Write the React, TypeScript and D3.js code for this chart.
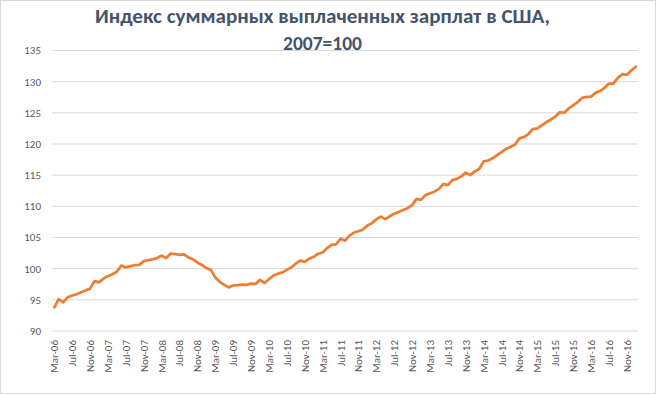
import React from "react";
import * as d3 from "d3";

const titleLines = ["Индекс суммарных выплаченных зарплат в США,", "2007=100"];

// Monthly index values, Mar-2006 .. Jan-2017
const values: number[] = [
  93.8, 95.1, 94.6, 95.4, 95.7, 95.9, 96.2, 96.5, 96.8, 98.0,
  97.8, 98.4, 98.8, 99.1, 99.5, 100.5, 100.2, 100.4, 100.55, 100.6,
  101.2, 101.35, 101.5, 101.7, 102.1, 101.7, 102.4, 102.35, 102.2, 102.3,
  101.8, 101.5, 101.0, 100.6, 100.1, 99.8, 98.6, 97.9, 97.4, 97.0,
  97.3, 97.35, 97.45, 97.4, 97.6, 97.55, 98.2, 97.7, 98.3, 98.9,
  99.2, 99.4, 99.8, 100.2, 100.8, 101.3, 101.1, 101.6, 101.9, 102.4,
  102.6, 103.3, 103.8, 103.9, 104.8, 104.5, 105.3, 105.8, 106.0, 106.3,
  106.9, 107.3, 107.9, 108.35, 107.95, 108.4, 108.8, 109.1, 109.4, 109.7,
  110.2, 111.2, 111.05, 111.8, 112.1, 112.35, 112.8, 113.6, 113.4, 114.2,
  114.4, 114.8, 115.4, 115.0, 115.6, 116.0, 117.2, 117.35, 117.7, 118.2,
  118.7, 119.2, 119.55, 119.9, 120.9, 121.1, 121.6, 122.4, 122.5, 123.0,
  123.5, 123.9, 124.4, 125.1, 125.0, 125.7, 126.2, 126.7, 127.4, 127.55,
  127.6, 128.2, 128.5, 129.0, 129.7, 129.7, 130.6, 131.2, 131.1, 131.8,
  132.4,
];

const monthNames = ["Jan", "Feb", "Mar", "Apr", "May", "Jun", "Jul", "Aug", "Sep", "Oct", "Nov", "Dec"];
const startYear = 2006;
const startMonth = 2; // March (0-based)

const categories: string[] = values.map((_, i) => {
  const m = startMonth + i;
  const y = startYear + Math.floor(m / 12);
  return `${monthNames[m % 12]}-${String(y % 100).padStart(2, "0")}`;
});

const tickLabels: string[] = [
  "Mar-06", "Jul-06", "Nov-06", "Mar-07", "Jul-07", "Nov-07", "Mar-08", "Jul-08", "Nov-08",
  "Mar-09", "Jul-09", "Nov-09", "Mar-10", "Jul-10", "Nov-10", "Mar-11", "Jul-11", "Nov-11",
  "Mar-12", "Jul-12", "Nov-12", "Mar-13", "Jul-13", "Nov-13", "Mar-14", "Jul-14", "Nov-14",
  "Mar-15", "Jul-15", "Nov-15", "Mar-16", "Jul-16", "Nov-16",
];

const yTicks: number[] = [90, 95, 100, 105, 110, 115, 120, 125, 130, 135];

export default function App() {
  const W = 659;
  const H = 396;
  const left = 52;
  const right = 638;
  const top = 50.5;
  const bottom = 331;

  const x = d3.scalePoint<string>().domain(categories).range([left, right]).padding(0.5);
  const y = d3.scaleLinear().domain([90, 135]).range([bottom, top]);

  const line = d3
    .line<number>()
    .x((_, i) => x(categories[i]) as number)
    .y((d) => y(d))
    .curve(d3.curveLinear);

  const font = "Calibri, Carlito, 'Liberation Sans', Arial, sans-serif";

  return (
    <svg
      width={W}
      height={H}
      style={{ position: "absolute", left: 0, top: 0, background: "#fff" }}
      fontFamily={font}
    >
      <rect x={0.5} y={0.5} width={655} height={393} fill="#fff" stroke="#D9D9D9" />
      <text
        x={322.5}
        y={23}
        textAnchor="middle"
        fontSize={19.5}
        fontWeight="bold"
        fill="#44546A"
        textLength={455}
        lengthAdjust="spacingAndGlyphs"
      >
        {titleLines[0]}
      </text>
      <text x={322.5} y={50} textAnchor="middle" fontSize={19.5} fontWeight="bold" fill="#44546A">
        {titleLines[1]}
      </text>
      {yTicks.map((t) => (
        <g key={t}>
          <line x1={left} x2={right} y1={y(t)} y2={y(t)} stroke="#D9D9D9" strokeWidth={1} />
          <text x={41} y={y(t)} dy="0.35em" textAnchor="end" fontSize={11} fill="#595959">
            {t}
          </text>
        </g>
      ))}
      {tickLabels.map((lab) => {
        const px = x(lab) as number;
        return (
          <text
            key={lab}
            transform={`translate(${px + 4},${bottom + 9}) rotate(-90)`}
            textAnchor="end"
            fontSize={11}
            fill="#595959"
          >
            {lab}
          </text>
        );
      })}
      <path
        d={line(values) || ""}
        fill="none"
        stroke="#ED7D31"
        strokeWidth={2.75}
        strokeLinejoin="round"
        strokeLinecap="round"
      />
    </svg>
  );
}
